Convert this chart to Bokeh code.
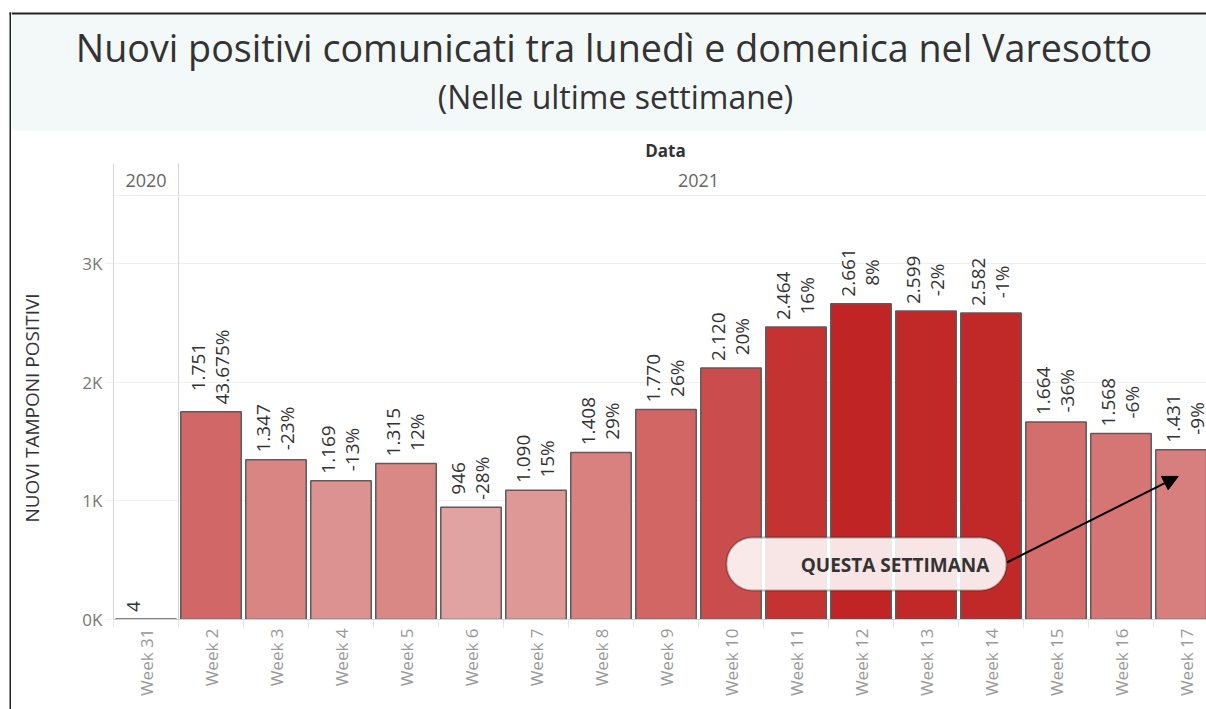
from math import pi
from bokeh.plotting import figure
from bokeh.layouts import column, row
from bokeh.models import (ColumnDataSource, Range1d, FixedTicker, Label, BoxAnnotation,
                          Arrow, NormalHead, LinearColorMapper, Span)
from bokeh.core.properties import value
from bokeh.embed import file_html
from bokeh.resources import INLINE

# ---------------- data ----------------
weeks = ["Week 31", "Week 2", "Week 3", "Week 4", "Week 5", "Week 6", "Week 7", "Week 8",
         "Week 9", "Week 10", "Week 11", "Week 12", "Week 13", "Week 14", "Week 15",
         "Week 16", "Week 17"]
years = ["2020"] + ["2021"] * 16
positives = [4, 1751, 1347, 1169, 1315, 946, 1090, 1408, 1770, 2120, 2464, 2661, 2599,
             2582, 1664, 1568, 1431]
pct_change = ["", "43.675%", "-23%", "-13%", "12%", "-28%", "15%", "29%", "26%", "20%",
              "16%", "8%", "-2%", "-1%", "-36%", "-6%", "-9%"]
y_ticks = [0, 1000, 2000, 3000]
y_tick_labels = ["0K", "1K", "2K", "3K"]

title_text = "Nuovi positivi comunicati tra lunedì e domenica nel Varesotto"
subtitle_text = "(Nelle ultime settimane)"
x_header = "Data"
y_title = "NUOVI TAMPONI POSITIVI"
note_text = "QUESTA SETTIMANA"

# ---------------- layout constants (page pixels) ----------------
W, H = 1206, 709
HEADER_H = 196            # header figure height
STRIP_W = 11              # left border strip
FRAME_L, FRAME_T, FRAME_B = 113, 196, 619
COL = 65.0
PX_PER_K = 118.67
FONT = "Open Sans"
GRID_LINE = "#d4d4d4"
BAND = "#f3f9f9"
INK = "#222222"


def dx(X):
    return (X - FRAME_L) / COL - 0.5


def dy(Y):
    return (FRAME_B - Y) / PX_PER_K * 1000


def hexlerp(c0, c1, n):
    a = [int(c0[i:i + 2], 16) for i in (1, 3, 5)]
    b = [int(c1[i:i + 2], 16) for i in (1, 3, 5)]
    out = []
    for k in range(n):
        t = k / (n - 1)
        out.append("#%02x%02x%02x" % tuple(round(a[j] + (b[j] - a[j]) * t) for j in range(3)))
    return out


CW = {".": 0.266, "%": 0.838, "-": 0.322}


def text_len(s, size):
    return sum(CW.get(ch, 0.572) for ch in s) * size


def bare(width, height, xr, yr):
    f = figure(width=width, height=height, x_range=xr, y_range=yr,
               x_axis_type=None, y_axis_type=None, output_backend="svg",
               toolbar_location=None, min_border=0, min_border_left=0, min_border_right=0,
               min_border_top=0, min_border_bottom=0, outline_line_color=None,
               background_fill_color="white", border_fill_color="white")
    f.grid.visible = False
    return f


# ---------------- left strip (full height, page coordinates) ----------------
strip = bare(STRIP_W, H, Range1d(0, STRIP_W), Range1d(H, 0))
strip.quad(left=10.5, right=STRIP_W, top=14, bottom=130, fill_color=BAND, line_color=None)
strip.quad(left=9, right=STRIP_W, top=12, bottom=14, fill_color=INK, line_color=None)
strip.quad(left=9, right=10.5, top=12, bottom=H, fill_color=INK, line_color=None)

# ---------------- header figure (page coordinates) ----------------
RW = W - STRIP_W
hdr = bare(RW, HEADER_H, Range1d(STRIP_W, W), Range1d(HEADER_H, 0))
hdr.quad(left=STRIP_W, right=W, top=14, bottom=130, fill_color=BAND, line_color=None)
hdr.quad(left=STRIP_W, right=W, top=12, bottom=14, fill_color=INK, line_color=None)
hdr.quad(left=[112.5, 177.5], right=[113.5, 178.5], top=163, bottom=HEADER_H,
         fill_color=GRID_LINE, line_color=None)
hdr.quad(left=113, right=W, top=195, bottom=196, fill_color="#dddddd", line_color=None)

hdr.text(x=[613.5], y=[47], text=[title_text], text_align="center", text_baseline="middle",
         text_font=value(FONT), text_font_size="37.7px", text_color="#333333")
hdr.text(x=[615], y=[96], text=[subtitle_text], text_align="center",
         text_baseline="middle", text_font=value(FONT), text_font_size="32px",
         text_color="#333333")
hdr.text(x=[665], y=[150], text=[x_header], text_align="center", text_baseline="middle",
         text_font=value(FONT), text_font_size="17px", text_font_style="bold",
         text_color="#333333")
yr_x, yr_t = [], []
for yr in sorted(set(years)):
    members = [i for i, y in enumerate(years) if y == yr]
    cx = (members[0] + members[-1]) / 2
    yr_x.append(FRAME_L + (cx + 0.5) * COL)
    yr_t.append(yr)
hdr.text(x=yr_x, y=[180] * len(yr_x), text=yr_t, text_align="center",
         text_baseline="middle", text_font=value(FONT), text_font_size="18px",
         text_color="#666666")

# ---------------- main chart ----------------
BODY_H = H - HEADER_H
LAB_SIZE = 19
idx = list(range(len(weeks)))
val_labels = [f"{v:,}".replace(",", ".") for v in positives]
yoff = [-(7 + max(text_len(a, LAB_SIZE), text_len(b, LAB_SIZE)) / 2)
        for a, b in zip(val_labels, pct_change)]
src = ColumnDataSource(dict(x=idx, top=positives, vlab=val_labels, plab=pct_change, yoff=yoff))

mapper = LinearColorMapper(palette=hexlerp("#f2e9e6", "#c02424", 256),
                           low=min(positives), high=max(positives))

x_end = -0.5 + (W - FRAME_L) / COL
y_end = (FRAME_B - FRAME_T) / PX_PER_K * 1000

p = figure(width=RW, height=BODY_H, x_range=Range1d(-0.5, x_end), y_range=Range1d(0, y_end),
           output_backend="svg", toolbar_location=None,
           min_border_left=FRAME_L - STRIP_W, min_border_right=0,
           min_border_top=0, min_border_bottom=H - FRAME_B,
           outline_line_color=None, background_fill_color="white", border_fill_color="white")

p.vbar(x="x", top="top", width=0.93, source=src,
       fill_color={"field": "top", "transform": mapper},
       line_color="#5c5c5c", line_width=1.5)

p.text(x="x", y="top", text="vlab", source=src, angle=pi / 2, text_align="center",
       text_baseline="middle", x_offset=-13, y_offset="yoff",
       text_font=value(FONT), text_font_size=f"{LAB_SIZE}px", text_color="#333333")
p.text(x="x", y="top", text="plab", source=src, angle=pi / 2, text_align="center",
       text_baseline="middle", x_offset=11, y_offset="yoff",
       text_font=value(FONT), text_font_size=f"{LAB_SIZE}px", text_color="#333333")

# pane divider between the years, inside the plot
pane_breaks = [i + 0.5 for i in range(len(years) - 1) if years[i] != years[i + 1]]
for b in pane_breaks:
    p.add_layout(Span(location=b, dimension="height", line_color=GRID_LINE, line_width=1))

xa = p.xaxis[0]
xa.ticker = FixedTicker(ticks=idx, minor_ticks=[i - 0.5 for i in range(len(weeks) + 1)])
xa.major_label_overrides = {i: w for i, w in enumerate(weeks)}
xa.major_label_orientation = pi / 2
xa.major_tick_out = 0
xa.major_tick_in = 0
xa.major_tick_line_color = None
xa.minor_tick_out = 8
xa.minor_tick_in = 0
xa.minor_tick_line_color = "#e6e6e6"
xa.axis_line_color = "#d0d0d0"
xa.major_label_standoff = 1
xa.major_label_text_font = FONT
xa.major_label_text_font_size = "17px"
xa.major_label_text_color = "#999999"

ya = p.yaxis[0]
ya.ticker = FixedTicker(ticks=y_ticks, minor_ticks=[])
ya.major_label_overrides = {t: l for t, l in zip(y_ticks, y_tick_labels)}
ya.major_tick_out = 8
ya.major_tick_in = 0
ya.major_tick_line_color = "#eeeeee"
ya.minor_tick_line_color = None
ya.axis_line_color = GRID_LINE
ya.major_label_standoff = 3
ya.major_label_text_font = FONT
ya.major_label_text_font_size = "17px"
ya.major_label_text_color = "#777777"
ya.axis_label = y_title
ya.axis_label_text_font = FONT
ya.axis_label_text_font_size = "19px"
ya.axis_label_text_font_style = "normal"
ya.axis_label_text_color = "#333333"
ya.axis_label_standoff = 34

p.xgrid.visible = False
p.ygrid.grid_line_color = "#efefef"

# annotation
p.add_layout(BoxAnnotation(left=dx(726), right=dx(1006), top=dy(537), bottom=dy(590),
                           fill_color="white", fill_alpha=0.88, line_color="#111111",
                           line_width=2, border_radius=26))
p.add_layout(Label(x=dx(894.5), y=dy(564), text=note_text, text_align="center",
                   text_baseline="middle", text_font=FONT, text_font_size="19px",
                   text_font_style="bold", text_color="#333333"))
last = len(weeks) - 1
p.add_layout(Arrow(end=NormalHead(size=15, fill_color="black", line_color="black"),
                   x_start=dx(1006.5), y_start=dy(562), x_end=last - 0.12,
                   y_end=positives[last] - 225, line_color="black", line_width=2))

# nesting each figure on its own keeps the layout from aligning their frames
layout = row(strip, column(row(hdr, spacing=0), row(p, spacing=0), spacing=0), spacing=0)
open("out.html", "w").write(file_html(layout, INLINE, title="Nuovi positivi"))
